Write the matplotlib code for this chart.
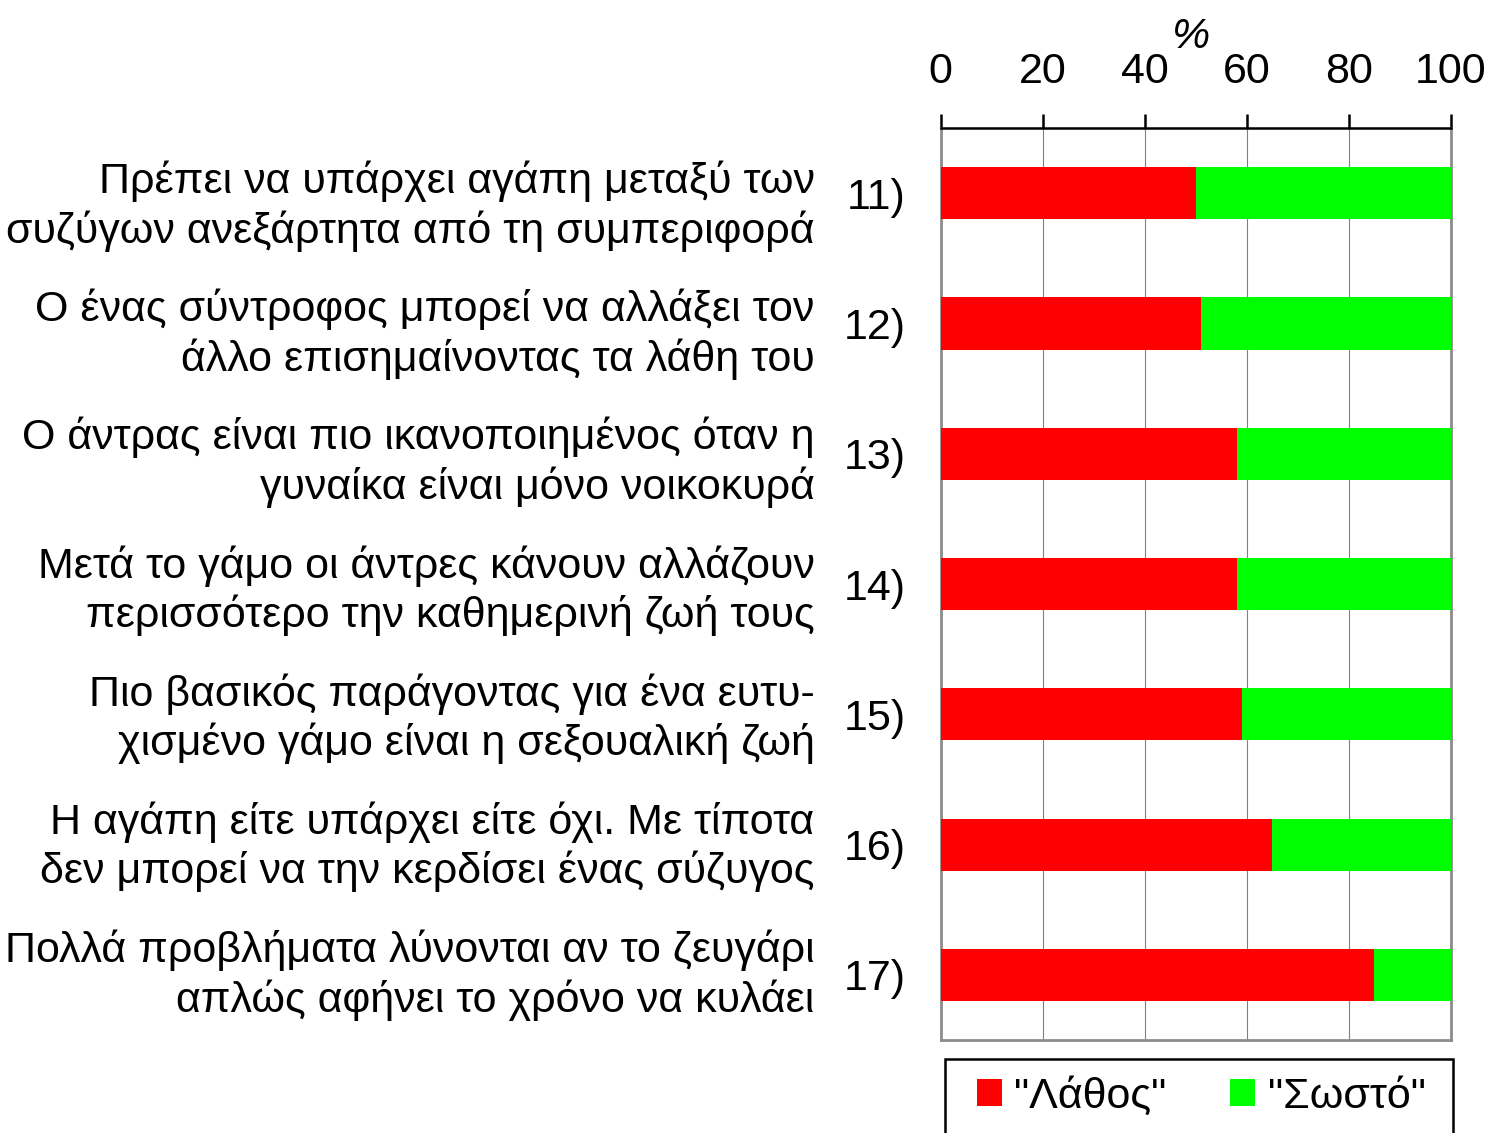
import matplotlib
matplotlib.use("Agg")
import matplotlib.pyplot as plt
import matplotlib.patches as mpatches
import matplotlib.transforms as mtransforms
import numpy as np

plt.rcParams["font.family"] = ["Liberation Sans", "DejaVu Sans"]

numbers = ["11)", "12)", "13)", "14)", "15)", "16)", "17)"]
statements = [
    "Πρέπει να υπάρχει αγάπη μεταξύ των\nσυζύγων ανεξάρτητα από τη συμπεριφορά",
    "Ο ένας σύντροφος μπορεί να αλλάξει τον\nάλλο επισημαίνοντας τα λάθη του",
    "Ο άντρας είναι πιο ικανοποιημένος όταν η\nγυναίκα είναι μόνο νοικοκυρά",
    "Μετά το γάμο οι άντρες κάνουν αλλάζουν\nπερισσότερο την καθημερινή ζωή τους",
    "Πιο βασικός παράγοντας για ένα ευτυ-\nχισμένο γάμο είναι η σεξουαλική ζωή",
    "Η αγάπη είτε υπάρχει είτε όχι. Με τίποτα\nδεν μπορεί να την κερδίσει ένας σύζυγος",
    "Πολλά προβλήματα λύνονται αν το ζευγάρι\nαπλώς αφήνει το χρόνο να κυλάει",
]
wrong = [50, 51, 58, 58, 59, 65, 85]
right = [50, 49, 42, 42, 41, 35, 15]
series_names = ['"Λάθος"', '"Σωστό"']

fs = 31
fig = plt.figure(figsize=(15.05, 11.33), dpi=100)
ax = fig.add_axes([0.625, 0.082, 0.339, 0.805])

y = np.arange(len(numbers))
ax.barh(y, wrong, height=0.4, color="#ff0000", label=series_names[0], zorder=3)
ax.barh(y, right, left=wrong, height=0.4, color="#00ff00", label=series_names[1], zorder=3)

ax.set_xlim(0, 100)
ax.set_ylim(len(numbers) - 0.5, -0.5)
ax.set_xticks([0, 20, 40, 60, 80, 100])
ax.xaxis.tick_top()
ax.xaxis.set_label_position("top")
ax.set_xlabel("%", fontsize=fs, style="italic")
ax.xaxis.set_label_coords(0.49, 1.1)
ax.xaxis.label.set_va("center")
ax.tick_params(axis="x", labelsize=fs, length=10, width=1.8, direction="out", pad=16)
ax.set_yticks(y)
ax.set_yticklabels(numbers, fontsize=fs)
ax.tick_params(axis="y", length=0, pad=25)
ax.grid(axis="x", color="#808080", linewidth=0.8, zorder=0)

for side in ["left", "right", "bottom"]:
    ax.spines[side].set_color("#8c8c8c")
    ax.spines[side].set_linewidth(2)
ax.spines["top"].set_color("black")
ax.spines["top"].set_linewidth(1.8)

# statement text sits a touch low on the upper rows in the original
trans = mtransforms.blended_transform_factory(ax.transAxes, ax.transData)
n = len(statements)
for yi, s in zip(y, statements):
    shift = 0.1 * (n - 1 - yi) / (n - 1)
    ax.text(-0.247, yi + shift, s, transform=trans, ha="right", va="center",
            fontsize=fs, linespacing=1.25)

# legend box runs off the bottom edge, so draw its frame separately
frame = mpatches.Rectangle((945 / 1505, -0.02), 508 / 1505, 0.02 + 1 - 1059 / 1133,
                           transform=fig.transFigure, fill=False,
                           edgecolor="black", linewidth=1.8)
fig.patches.append(frame)
fig.legend(*ax.get_legend_handles_labels(), loc="center",
           bbox_to_anchor=(1201 / 1505, 1 - 1097 / 1133), ncol=2, fontsize=fs,
           frameon=False, handlelength=0.58, handleheight=0.58,
           handletextpad=0.28, columnspacing=1.5, borderpad=0)

fig.savefig("out.png", dpi=100)
